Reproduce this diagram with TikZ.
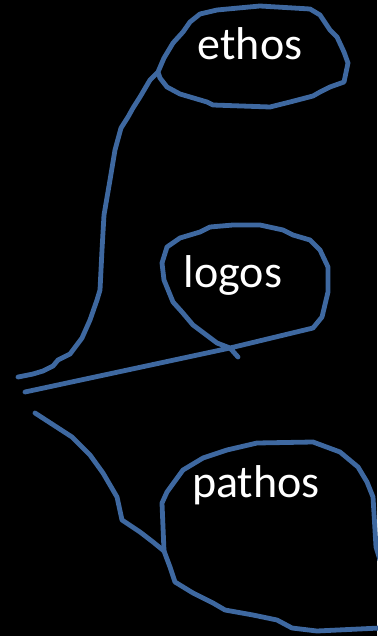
\documentclass[tikz,border=0pt]{standalone}
\usepackage{fontspec}
\setmainfont{Carlito}
\definecolor{inkblue}{RGB}{62,104,160}
\begin{document}
\begin{tikzpicture}[x=1pt,y=-1pt,
  ink/.style={draw=inkblue,line width=4.8pt,line join=round,line cap=round},
  word/.style={text=white,anchor=base,inner sep=0pt,font=\fontsize{46}{55}\selectfont}]
\fill[black] (0,0) rectangle (377,636);
\useasboundingbox (0,0) rectangle (377,636);
% labels
\node[word] (ethos) at (250,60) {ethos};
\node[word] (logos) at (233,287) {logos};
\node[word] (pathos) at (256,497) {pathos};
% junction coordinates
\coordinate (ej) at (158,72);
\coordinate (lj) at (230,348);
\coordinate (pj) at (164,551);
% ethos stem and loop
\draw[ink] (18,377) -- (33,374) -- (43,371) -- (53,366) -- (58,360) -- (70,354) -- (82,338) -- (90,320) -- (97,300) -- (100,290) -- (102,250) -- (104,215) -- (110,180) -- (115,150) -- (121,128) -- (128,117) -- (133,108) -- (140,97) -- (150,80) -- (ej) -- (164,58) -- (173,43) -- (183,32) -- (190,22) -- (200,14) -- (217,10) -- (260,6) -- (310,9) -- (320,15) -- (330,30) -- (337,37) -- (344,52) -- (348,63) -- (344,82) -- (330,87) -- (320,92) -- (313,96) -- (290,102) -- (270,107) -- (213,105) -- (207,102) -- (180,94) -- (167,87) -- (160,78) -- (ej);
% logos line and loop
\draw[ink] (25,392) -- (lj) -- (313,328) -- (322,317) -- (328,292) -- (328,267) -- (320,250) -- (310,240) -- (293,235) -- (283,230) -- (260,225) -- (233,225) -- (210,227) -- (200,232) -- (180,238) -- (167,247) -- (162,263) -- (164,280) -- (173,302) -- (182,312) -- (193,325) -- (217,343) -- (lj) -- (238,357);
% pathos line and loop
\draw[ink] (35,413) -- (72,437) -- (90,455) -- (103,473) -- (117,497) -- (122,520) -- (140,532) -- (153,542) -- (pj) -- (170,567) -- (175,582) -- (193,593) -- (213,603) -- (225,610) -- (253,615) -- (277,620) -- (292,628) -- (317,631) -- (380,628);
\draw[ink] (pj) -- (162,503) -- (167,492) -- (183,470) -- (203,458) -- (227,450) -- (257,443) -- (313,442) -- (340,452) -- (358,467) -- (367,482) -- (373,497) -- (376,547) -- (380,560);
\end{tikzpicture}
\end{document}
